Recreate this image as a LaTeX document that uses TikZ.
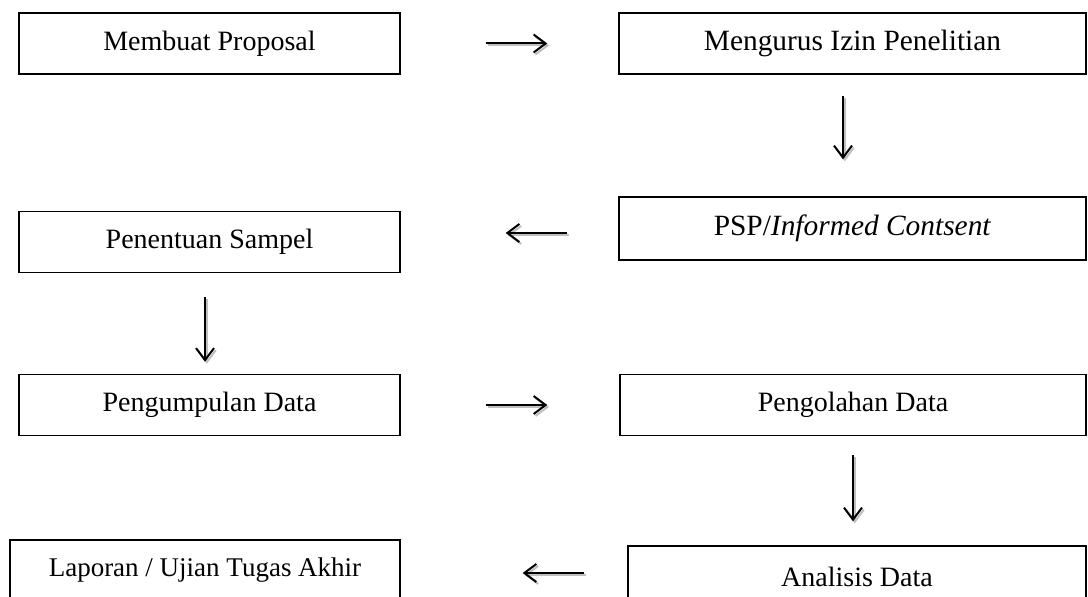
\documentclass[tikz,border=0pt]{standalone}
\usepackage{fontspec}
\setmainfont{Liberation Serif}
\usetikzlibrary{positioning,arrows.meta}
\tikzset{box node/.style={draw,line width=0.7pt,minimum height=30.5pt,inner sep=0pt,font=\fontsize{14}{16}\selectfont},
  flow arrow/.style={line width=1pt,-{Straight Barb[length=6pt,width=9pt]}},
  shade arrow/.style={flow arrow,draw=gray!50,transform canvas={shift={(0.9pt,-1pt)}}} }

\begin{document}
\begin{tikzpicture}[x=0.5pt,y=-0.5pt]
  \useasboundingbox (0,0) rectangle (1088,597);

  \node[box node,minimum width=190.5pt] (proposal) at (209.5,43.5) {Membuat Proposal};
  \node[box node,minimum width=233.5pt,font=\fontsize{14.7}{17}\selectfont] (izin) at (852.5,43.5) {Mengurus Izin Penelitian};
  \node[box node,minimum width=233.5pt,minimum height=31.5pt,font=\fontsize{14.7}{17}\selectfont] (psp) at (852.5,228.5) {PSP/\textit{Informed Contsent}};
  \node[box node,minimum width=190.5pt] (sampel) at (209.5,242) {Penentuan Sampel};
  \node[box node,minimum width=190.5pt] (kumpul) at (209.5,405) {Pengumpulan Data};
  \node[box node,minimum width=233pt] (olah) at (853,405) {Pengolahan Data};
  \node[box node,minimum width=195pt,font=\fontsize{13.5}{16}\selectfont] (laporan) at (205,570.5) {Laporan / Ujian Tugas Akhir};
  \node[box node,minimum width=229pt] (analisis) at (857,576.5) {Analisis Data};

  % arrow ends
  \coordinate (a1) at ([xshift=42.5pt]proposal.east);
  \coordinate (b1) at ([xshift=-35.5pt]izin.west);
  \coordinate (a2) at ([xshift=-4.75pt,yshift=-10.5pt]izin.south);
  \coordinate (b2) at ([xshift=-4.75pt,yshift=18.5pt]psp.north);
  \coordinate (a3) at ([xshift=-25.5pt,yshift=-2.25pt]psp.west);
  \coordinate (b3) at ([xshift=52.5pt,yshift=4.5pt]sampel.east);
  \coordinate (a4) at ([xshift=-2.25pt,yshift=-12pt]sampel.south);
  \coordinate (b4) at ([xshift=-2.25pt,yshift=6pt]kumpul.north);
  \coordinate (a5) at ([xshift=42.5pt]kumpul.east);
  \coordinate (b5) at ([xshift=-36pt]olah.west);
  \coordinate (a6) at ([yshift=-9.5pt]olah.south);
  \coordinate (b6) at ([xshift=-2pt,yshift=12pt]analisis.north);
  \coordinate (a7) at ([xshift=-21.5pt,yshift=1.75pt]analisis.west);
  \coordinate (b7) at ([xshift=61pt,yshift=-1.25pt]laporan.east);

  \foreach \i in {1,...,7} {
    \draw[shade arrow] (a\i) -- (b\i);
    \draw[flow arrow] (a\i) -- (b\i);
  }
\end{tikzpicture}
\end{document}
